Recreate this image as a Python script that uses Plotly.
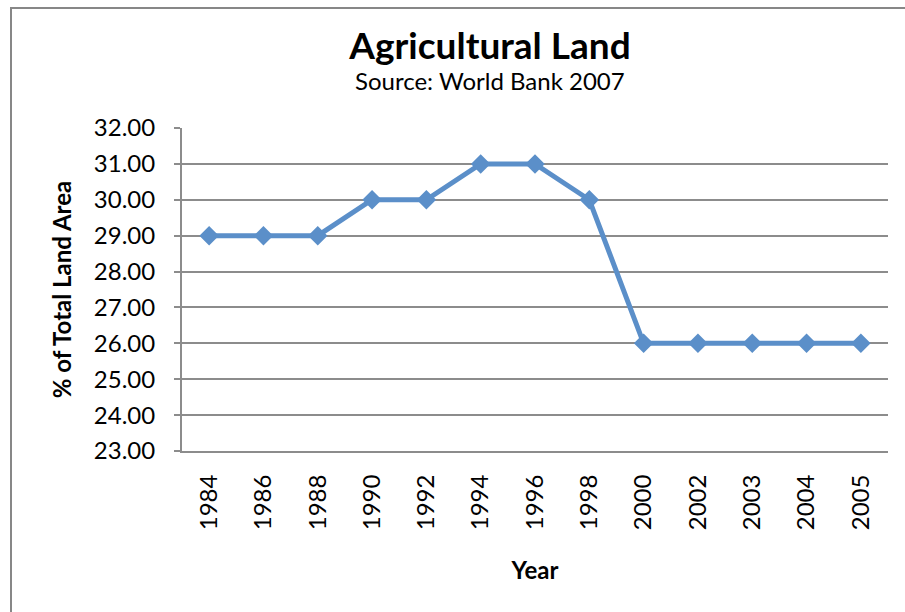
import plotly.graph_objects as go

years = ["1984", "1986", "1988", "1990", "1992", "1994", "1996",
         "1998", "2000", "2002", "2003", "2004", "2005"]
pct_land = [29, 29, 29, 30, 30, 31, 31, 30, 26, 26, 26, 26, 26]

FONT = "Lato, Calibri, sans-serif"
GRID = "#8c8c8c"

fig = go.Figure()
fig.add_trace(go.Scatter(
    x=years, y=pct_land, mode="lines+markers",
    line=dict(color="#5b8fc9", width=5),
    marker=dict(symbol="diamond", size=15, color="#5b8fc9"),
    showlegend=False,
))

fig.update_layout(
    width=905, height=612,
    margin=dict(l=182, r=17, t=128, b=161),
    paper_bgcolor="white", plot_bgcolor="white",
    font=dict(family=FONT, color="black", size=24),
    title=dict(text="<b>Agricultural Land</b>", font=dict(size=37),
               x=490 / 905, xanchor="center", xref="container",
               y=1 - 46 / 612, yanchor="middle", yref="container"),
)

# subtitle
fig.add_annotation(text="Source: World Bank 2007", showarrow=False,
                   xref="paper", yref="paper",
                   x=(490 - 182) / 706, y=1 + (128 - 80) / 323,
                   xanchor="center", yanchor="middle",
                   font=dict(size=24))

# outer chart border
fig.add_shape(type="rect", xref="paper", yref="paper",
              x0=(11 - 182) / 706, x1=(910 - 182) / 706,
              y0=(451 - 620) / 323, y1=1 + (128 - 8) / 323,
              line=dict(color="#878787", width=2))

fig.update_xaxes(
    type="category", range=[-0.5, len(years) - 0.5], tickangle=-90,
    showline=True, linecolor=GRID, linewidth=2,
    showgrid=False, ticks="", ticklabelstandoff=12,
    title=dict(text="<b>Year</b>", font=dict(size=24), standoff=33),
)
fig.update_yaxes(
    range=[23, 32], dtick=1, tickformat=".2f",
    showline=True, linecolor=GRID, linewidth=2,
    showgrid=True, gridcolor=GRID, gridwidth=2,
    ticks="outside", ticklen=6, tickcolor=GRID, tickwidth=2,
    ticklabelstandoff=14,
    title=dict(text="<b>% of Total Land Area</b>", font=dict(size=24), standoff=15),
)

fig.write_html("out.html", config={"displayModeBar": False},
               post_script="document.body.style.margin='0';")
